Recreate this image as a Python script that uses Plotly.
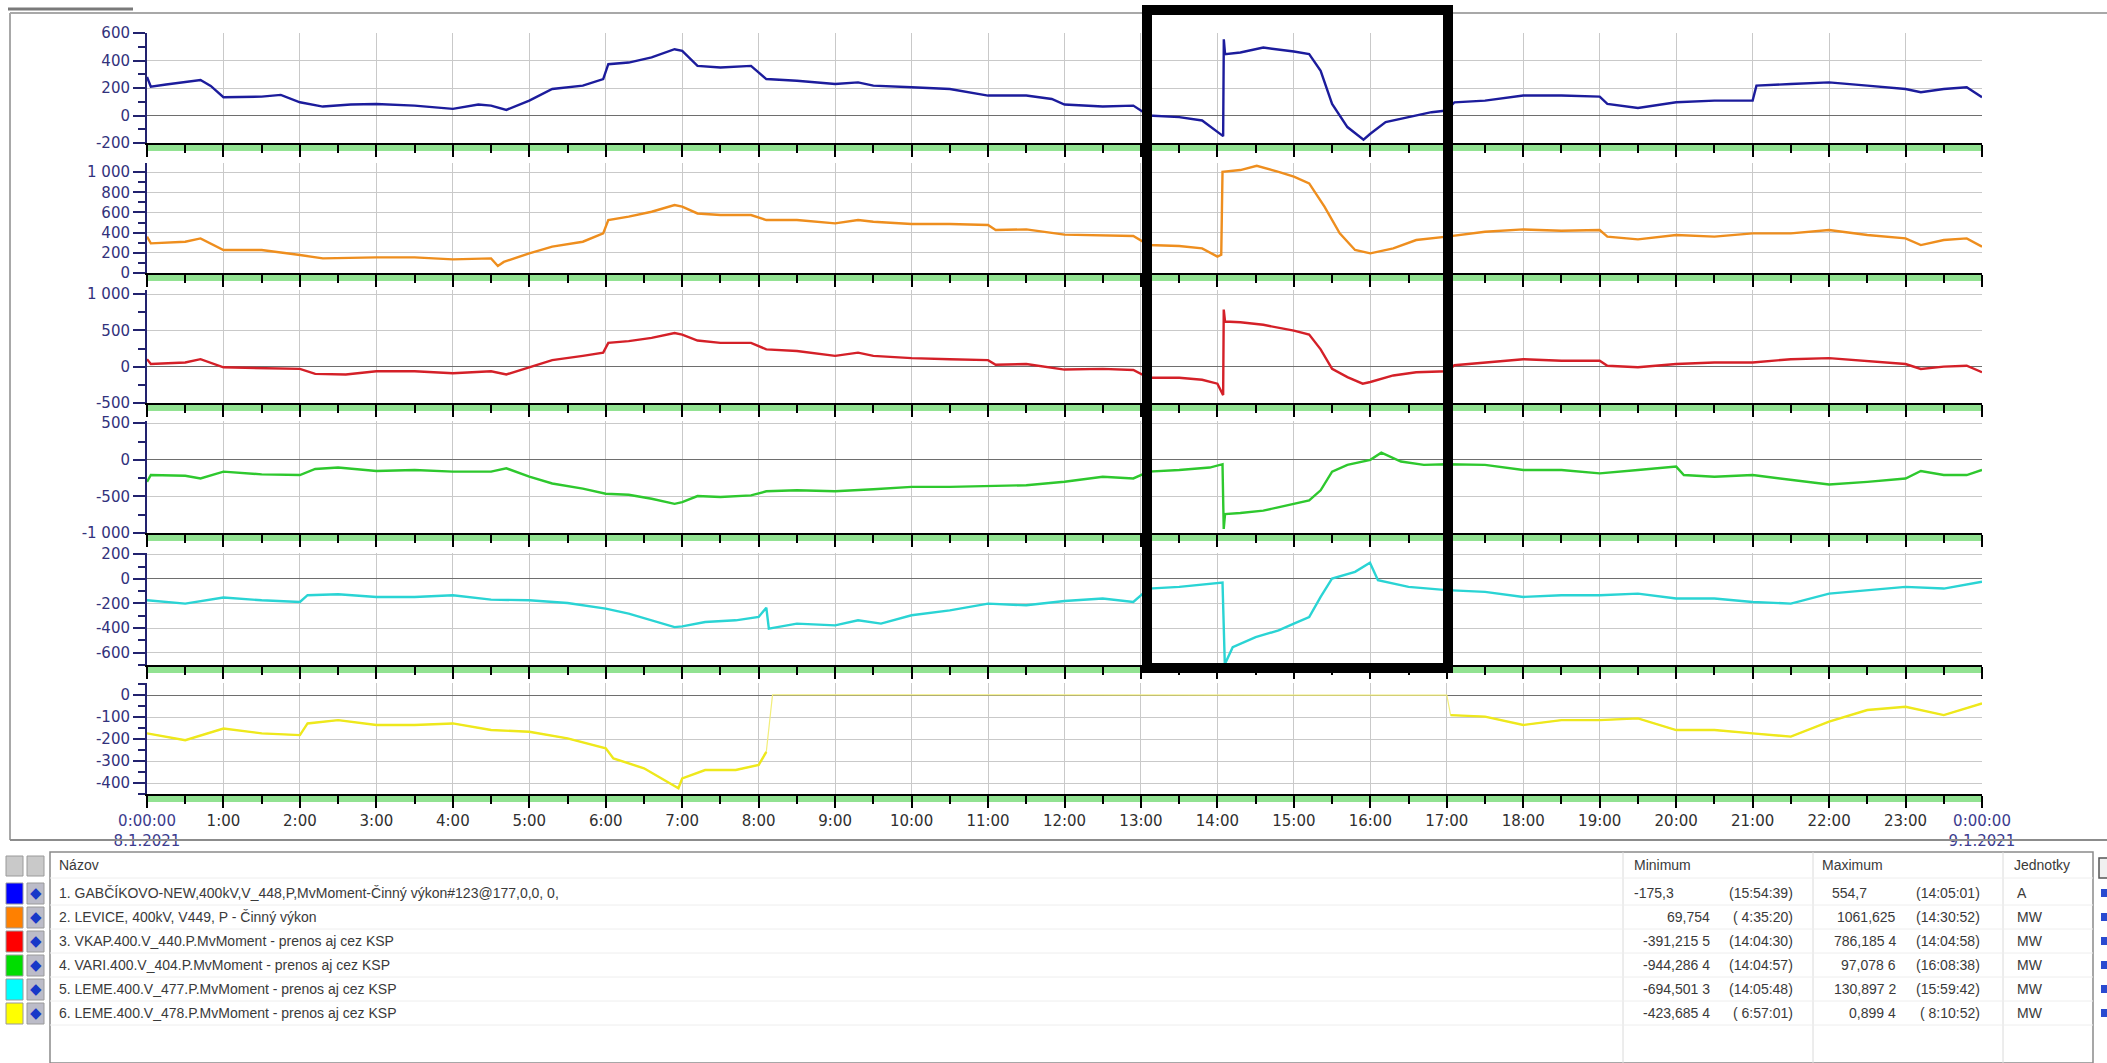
import plotly.graph_objects as go

W, H = 2107, 1063
DAY = "2021-01-08"

# ---------------- measured series, 8.1.2021 (time of day, value) ----------------
gab_t = ["0:00", "0:03", "0:15", "0:30", "0:42", "0:50", "1:00", "1:30", "1:45", "2:00",
         "2:18", "2:40", "3:00", "3:30", "4:00", "4:20", "4:30", "4:42", "5:00", "5:18",
         "5:42", "5:58", "6:02", "6:18", "6:36", "6:54", "7:00", "7:12", "7:30", "7:54",
         "8:06", "8:30", "9:00", "9:18", "9:30", "10:00", "10:30", "11:00", "11:30", "11:50",
         "12:00", "12:30", "12:54", "13:06", "13:30", "13:48", "14:00", "14:04:30", "14:05:01", "14:06",
         "14:18", "14:36", "15:00", "15:12", "15:21", "15:30", "15:42", "15:54:39", "16:00", "16:12",
         "16:30", "16:48", "17:00", "17:06", "17:30", "18:00", "18:30", "19:00", "19:06", "19:30",
         "20:00", "20:30", "21:00", "21:03", "21:30", "22:00", "22:30", "23:00", "23:12", "23:30",
         "23:48", "24:00"]
gab_v = [280, 210, 225, 241, 258, 215, 133, 137, 150, 96,
         65, 80, 84, 72, 48, 80, 72, 41, 108, 193,
         217, 265, 373, 385, 422, 482, 470, 361, 349, 361,
         265, 253, 229, 241, 217, 205, 193, 145, 145, 120,
         80, 65, 72, 0, -12, -36, -120, -150, 554.7, 446,
         458, 494, 465, 446, 325, 84, -84, -175.3, -133, -48,
         -12, 24, 36, 96, 108, 145, 145, 137, 84, 55,
         96, 108, 108, 217, 229, 241, 217, 193, 169, 193,
         205, 133]

lev_t = ["0:00", "0:03", "0:30", "0:42", "1:00", "1:30", "2:00", "2:18", "3:00", "3:30",
         "4:00", "4:30", "4:35:20", "4:40", "5:00", "5:18", "5:42", "5:58", "6:02", "6:18",
         "6:36", "6:54", "7:00", "7:12", "7:30", "7:54", "8:06", "8:30", "9:00", "9:18",
         "9:30", "10:00", "10:30", "11:00", "11:06", "11:30", "12:00", "12:30", "12:54", "13:06",
         "13:30", "13:48", "14:00", "14:03", "14:04", "14:18", "14:30:52", "14:48", "15:00", "15:12",
         "15:24", "15:36", "15:48", "16:00", "16:18", "16:36", "17:00", "17:30", "18:00", "18:30",
         "19:00", "19:06", "19:30", "20:00", "20:30", "21:00", "21:30", "22:00", "22:30", "23:00",
         "23:12", "23:30", "23:48", "24:00"]
lev_v = [360, 294, 310, 343, 228, 228, 178, 145, 155, 155,
         135, 145, 69.754, 110, 195, 261, 310, 393, 525, 558,
         607, 673, 657, 590, 574, 574, 525, 525, 492, 525,
         508, 485, 485, 475, 426, 432, 380, 376, 366, 277,
         267, 244, 162, 180, 1003, 1020, 1061.625, 1003, 954, 888,
         657, 393, 228, 195, 244, 327, 360, 409, 432, 419,
         426, 360, 333, 376, 360, 393, 393, 426, 376, 343,
         277, 327, 343, 261]

vkap_t = ["0:00", "0:03", "0:30", "0:42", "1:00", "1:30", "2:00", "2:12", "2:36", "3:00",
          "3:30", "4:00", "4:30", "4:42", "5:00", "5:18", "5:42", "5:58", "6:02", "6:18",
          "6:36", "6:54", "7:00", "7:12", "7:30", "7:54", "8:06", "8:30", "9:00", "9:18",
          "9:30", "10:00", "10:30", "11:00", "11:06", "11:30", "12:00", "12:30", "12:54", "13:06",
          "13:30", "13:48", "14:00", "14:04:30", "14:04:58", "14:06", "14:18", "14:36", "15:00", "15:12",
          "15:21", "15:30", "15:42", "15:54", "16:00", "16:18", "16:36", "17:00", "17:06", "17:30",
          "18:00", "18:30", "19:00", "19:06", "19:30", "20:00", "20:30", "21:00", "21:30", "22:00",
          "22:30", "23:00", "23:12", "23:30", "23:48", "24:00"]
vkap_v = [103, 36, 58, 103, -9, -18, -31, -99, -108, -63,
          -63, -90, -63, -108, -9, 90, 148, 193, 328, 351,
          396, 463, 441, 360, 328, 328, 238, 216, 148, 193,
          148, 117, 103, 90, 27, 36, -40, -31, -45, -153,
          -153, -180, -234, -391.2155, 786.1854, 621, 612, 576, 495, 441,
          238, -31, -144, -234, -211, -121, -76, -63, 20, 58,
          103, 81, 81, 13, -9, 36, 58, 58, 103, 117,
          72, 36, -31, 0, 13, -76]

vari_t = ["0:00", "0:03", "0:30", "0:42", "1:00", "1:30", "2:00", "2:12", "2:30", "3:00",
          "3:30", "4:00", "4:30", "4:42", "5:00", "5:18", "5:42", "6:00", "6:18", "6:36",
          "6:54", "7:00", "7:12", "7:30", "7:54", "8:06", "8:30", "9:00", "9:30", "10:00",
          "10:30", "11:00", "11:30", "12:00", "12:30", "12:54", "13:06", "13:30", "13:54", "14:04",
          "14:04:57", "14:06", "14:18", "14:36", "15:00", "15:12", "15:21", "15:30", "15:42", "16:00",
          "16:08:38", "16:24", "16:42", "17:00", "17:30", "18:00", "18:30", "19:00", "19:30", "20:00",
          "20:06", "20:30", "21:00", "21:30", "22:00", "22:30", "23:00", "23:12", "23:30", "23:48",
          "24:00"]
vari_v = [-301, -208, -218, -255, -162, -199, -208, -125, -106, -153,
          -139, -162, -162, -116, -231, -324, -393, -463, -477, -532,
          -602, -579, -495, -509, -486, -430, -417, -430, -403, -370,
          -370, -356, -347, -300, -231, -255, -162, -139, -106, -60,
          -944.2864, -741, -727, -694, -602, -556, -417, -162, -69, 0,
          97.0786, -23, -69, -60, -69, -139, -139, -185, -139, -93,
          -208, -231, -208, -278, -338, -301, -255, -153, -208, -208,
          -139]

leme477_t = ["0:00", "0:30", "1:00", "1:30", "2:00", "2:06", "2:30", "3:00", "3:30", "4:00",
             "4:30", "5:00", "5:30", "6:00", "6:18", "6:36", "6:54", "7:00", "7:18", "7:42",
             "8:00", "8:06", "8:08", "8:30", "9:00", "9:18", "9:36", "10:00", "10:30", "11:00",
             "11:30", "12:00", "12:30", "12:54", "13:06", "13:30", "13:54", "14:04", "14:05:48", "14:12",
             "14:30", "14:48", "15:00", "15:12", "15:21", "15:30", "15:48", "15:59:42", "16:06", "16:30",
             "17:00", "17:30", "18:00", "18:30", "19:00", "19:30", "20:00", "20:30", "21:00", "21:30",
             "22:00", "22:30", "23:00", "23:30", "24:00"]
leme477_v = [-174, -201, -152, -174, -188, -133, -125, -147, -147, -133,
             -169, -174, -196, -242, -283, -337, -392, -386, -351, -337,
             -310, -234, -405, -364, -378, -337, -364, -296, -256, -201,
             -215, -180, -160, -188, -79, -65, -38, -30, -694.5013, -555,
             -473, -419, -364, -310, -147, 3, 57, 130.8972, -11, -65,
             -92, -106, -147, -133, -133, -120, -160, -160, -188, -201,
             -120, -92, -65, -79, -24]

leme478_t = ["0:00", "0:30", "1:00", "1:30", "2:00", "2:06", "2:30", "3:00", "3:30", "4:00",
             "4:30", "5:00", "5:30", "6:00", "6:06", "6:30", "6:57:01", "7:00", "7:18", "7:42",
             "8:00", "8:06", "8:10:52", "17:00", "17:03", "17:30", "18:00", "18:30", "19:00", "19:30",
             "20:00", "20:30", "21:00", "21:30", "22:00", "22:30", "23:00", "23:30", "24:00"]
leme478_v = [-174, -205, -152, -174, -182, -129, -114, -136, -136, -129,
             -159, -167, -197, -242, -288, -333, -423.6854, -379, -341, -341,
             -318, -258, 0.8994, 0, -91, -98, -136, -114, -114, -106,
             -159, -159, -174, -189, -121, -68, -53, -91, -38]
# no measurement between these two instants (series held at zero)
leme478_idle = ("8:10:52", "17:00")

series_names = [
    "1. GABČÍKOVO-NEW,400kV,V_448,P,MvMoment-Činný výkon#123@177,0,0, 0,",
    "2. LEVICE, 400kV, V449, P - Činný výkon",
    "3. VKAP.400.V_440.P.MvMoment - prenos aj cez KSP",
    "4. VARI.400.V_404.P.MvMoment - prenos aj cez KSP",
    "5. LEME.400.V_477.P.MvMoment - prenos aj cez KSP",
    "6. LEME.400.V_478.P.MvMoment - prenos aj cez KSP",
]
series_units = ["A", "MW", "MW", "MW", "MW", "MW"]
value_decimals = [1, 3, 4, 4, 4, 4]

y_tick_values = [
    [600, 400, 200, 0, -200],
    [1000, 800, 600, 400, 200, 0],
    [1000, 500, 0, -500],
    [500, 0, -500, -1000],
    [200, 0, -200, -400, -600],
    [0, -100, -200, -300, -400],
]
hour_labels = (["0:00:00<br>8.1.2021"] + [f"{h}:00" for h in range(1, 24)]
               + ["0:00:00<br>9.1.2021"])
table_headers = ["Názov", "Minimum", "Maximum", "Jednotky"]

# ---------------- styling ----------------
line_colors = ["#1c1c9c", "#ee8e1e", "#d42028", "#2ec82e", "#2ad4d4", "#eee81c"]
swatch_colors = ["#0000ff", "#ff8000", "#ff0000", "#00dd00", "#00ffff", "#ffff00"]
y_ranges = [[-200, 600], [0, 1090], [-500, 1055], [-1000, 530], [-700, 210], [-450, 55]]
y_minor_steps = [100, 100, 250, 250, 100, 50]
panel_px = [(33, 143), (163, 273), (290, 403), (421, 533), (553, 665), (683, 794)]
PLOT_L, PLOT_R = 147, 1982
BAND = 8
NAVY = "#22226e"
NAVY_TXT = "#32327c"
GRID = "#c9c9c9"
GREEN = "#92e292"
TXT = "#3a3a3a"
FONT = "DejaVu Sans"
TFONT = "Liberation Sans"
LINE_W = 2.4


def ts(t):
    p = [int(s) for s in t.split(":")]
    h, m = p[0], p[1]
    s = p[2] if len(p) > 2 else 0
    if h == 24:
        return "2021-01-09 00:00:00"
    return f"{DAY} {h:02d}:{m:02d}:{s:02d}"


def to_seconds(t):
    p = [int(s) for s in t.split(":")]
    return p[0] * 3600 + p[1] * 60 + (p[2] if len(p) > 2 else 0)


def fx(x):
    return x / W


def fy(y):
    return 1 - y / H


def fmt_tick(v):
    s = f"{abs(v):,}".replace(",", " ")
    return ("-" if v < 0 else "") + s


def fmt_value(v, d):
    s = f"{abs(v):.{d}f}"
    ip, fp = s.split(".")
    if len(fp) > 3:
        fp = fp[:3] + " " + fp[3:]
    return ("-" if v < 0 else "") + ip + "," + fp


def fmt_time(t):
    sec = to_seconds(t)
    h, rem = divmod(sec, 3600)
    m, s = divmod(rem, 60)
    hh = f"{h}" if h >= 10 else f"\u00a0{h}"
    return f"({hh}:{m:02d}:{s:02d})"


series = [(gab_t, gab_v), (lev_t, lev_v), (vkap_t, vkap_v),
          (vari_t, vari_v), (leme477_t, leme477_v), (leme478_t, leme478_v)]

fig = go.Figure()
layout = dict(
    width=W, height=H, autosize=False, template="none",
    margin=dict(l=0, r=0, t=0, b=0, pad=0),
    paper_bgcolor="white", plot_bgcolor="white",
    showlegend=False, hovermode=False,
)

hour_vals = [ts(f"{h}:00") for h in range(25)]
half_vals = [ts(f"{h}:30") for h in range(24)]
hour_text = []
for lab in hour_labels:
    if "<br>" in lab:
        a, b = lab.split("<br>")
        hour_text.append(f"<span style='color:#3c3c8e'>{a}</span><br>"
                         f"<span style='color:#3c3c8e'>{b}</span>")
    else:
        hour_text.append(lab)

shapes = []
annotations = []

for i, ((t, v), col) in enumerate(zip(series, line_colors)):
    n = i + 1
    xn = "x" if n == 1 else f"x{n}"
    yn = "y" if n == 1 else f"y{n}"
    xs = [ts(s) for s in t]
    if n == 6:
        # idle stretch drawn as a faint hairline, measured parts in full weight
        a, b = t.index(leme478_idle[0]), t.index(leme478_idle[1])
        fig.add_trace(go.Scatter(x=xs, y=v, mode="lines",
                                 line=dict(color="#f2ee7a", width=1.2),
                                 xaxis=xn, yaxis=yn))
        active = [None if a <= k <= b else val for k, val in enumerate(v)]
        fig.add_trace(go.Scatter(x=xs, y=active, mode="lines", connectgaps=False,
                                 line=dict(color=col, width=LINE_W), xaxis=xn, yaxis=yn))
    else:
        fig.add_trace(go.Scatter(x=xs, y=v, mode="lines",
                                 line=dict(color=col, width=LINE_W), xaxis=xn, yaxis=yn))
    top, bot = panel_px[i]
    lo, hi = y_ranges[i]
    step = y_minor_steps[i]
    start = (lo // step) * step
    minor_vals = [m for m in range(start, hi + 1, step)
                  if lo <= m <= hi and m not in y_tick_values[i]]
    layout[f"xaxis{'' if n == 1 else n}"] = dict(
        domain=[fx(PLOT_L), fx(PLOT_R)], anchor=yn, type="date",
        range=[ts("0:00"), ts("24:00")],
        tickmode="array", tickvals=hour_vals, ticktext=hour_text,
        showticklabels=(n == 6),
        ticks="outside", ticklen=12, tickwidth=2, tickcolor="black",
        showline=True, linecolor="black", linewidth=2,
        showgrid=True, gridcolor=GRID, gridwidth=1, zeroline=False,
        minor=dict(tickmode="array", tickvals=half_vals, ticks="outside", ticklen=8,
                   tickwidth=2, tickcolor="black", showgrid=False),
        tickfont=dict(family=FONT, size=15, color="#303030"),
        fixedrange=True, automargin=False,
        **({} if n == 1 else {"matches": "x"}),
    )
    layout[f"yaxis{'' if n == 1 else n}"] = dict(
        domain=[fy(bot), fy(top)], anchor=xn, range=[lo, hi],
        tickmode="array", tickvals=y_tick_values[i],
        ticktext=[fmt_tick(k) for k in y_tick_values[i]],
        ticks="outside", ticklen=12, tickwidth=2, tickcolor=NAVY,
        showline=True, linecolor=NAVY, linewidth=2,
        showgrid=True, gridcolor=GRID, gridwidth=1,
        zeroline=True, zerolinecolor="#6e6e6e", zerolinewidth=1,
        minor=dict(tickmode="array", tickvals=minor_vals, ticks="outside", ticklen=7,
                   tickwidth=2, tickcolor=NAVY, showgrid=False),
        tickfont=dict(family=FONT, size=15, color=NAVY_TXT),
        fixedrange=True, automargin=False,
    )
    # green time strip under each panel
    shapes.append(dict(type="rect", xref="paper", yref="paper",
                       x0=fx(PLOT_L), x1=fx(PLOT_R), y0=fy(bot + BAND), y1=fy(bot),
                       fillcolor=GREEN, line=dict(width=0), layer="below"))

# window frame around the chart area
shapes.append(dict(type="line", xref="paper", yref="paper", x0=fx(8), x1=fx(133),
                   y0=fy(9), y1=fy(9), line=dict(color="#7a7a7a", width=3)))
shapes.append(dict(type="line", xref="paper", yref="paper", x0=fx(10), x1=1,
                   y0=fy(13), y1=fy(13), line=dict(color="#a8a8a8", width=2)))
shapes.append(dict(type="line", xref="paper", yref="paper", x0=fx(10), x1=fx(10),
                   y0=fy(13), y1=fy(840), line=dict(color="#a8a8a8", width=2)))
shapes.append(dict(type="line", xref="paper", yref="paper", x0=fx(10), x1=1,
                   y0=fy(840), y1=fy(840), line=dict(color="#8c8c8c", width=2)))

# highlight box around the event
shapes.append(dict(type="rect", xref="paper", yref="paper",
                   x0=fx(1147), x1=fx(1448), y0=fy(668), y1=fy(10),
                   line=dict(color="black", width=10), fillcolor="rgba(0,0,0,0)",
                   layer="above"))

# ---------------- summary table ----------------
TBL_T, TBL_L, TBL_R = 852, 50, 2093
shapes.append(dict(type="rect", xref="paper", yref="paper",
                   x0=fx(TBL_L), x1=fx(TBL_R), y0=0, y1=fy(TBL_T),
                   line=dict(color="#8a8a8a", width=1.5), fillcolor="white", layer="below"))
for cx in (1623, 1813, 2003):
    shapes.append(dict(type="line", xref="paper", yref="paper", x0=fx(cx), x1=fx(cx),
                       y0=0, y1=fy(TBL_T), line=dict(color="#dadada", width=1)))
row_y = [893, 917, 941, 965, 989, 1013]
for yy in [878] + [r + 12 for r in row_y]:
    shapes.append(dict(type="line", xref="paper", yref="paper", x0=fx(TBL_L), x1=fx(TBL_R),
                       y0=fy(yy), y1=fy(yy), line=dict(color="#eeeeee", width=1)))

# header icons
for x0 in (6, 27):
    shapes.append(dict(type="rect", xref="paper", yref="paper", x0=fx(x0), x1=fx(x0 + 17),
                       y0=fy(876), y1=fy(856), fillcolor="#c9c9c9",
                       line=dict(color="#9a9a9a", width=1)))
# scroll strip at the right edge
shapes.append(dict(type="rect", xref="paper", yref="paper", x0=fx(2099), x1=fx(2110),
                   y0=fy(878), y1=fy(858), fillcolor="#f0f0f0",
                   line=dict(color="#555555", width=1.5)))

hx = [57, 1632, 1820, 2012]
for txt, x in zip(table_headers, hx):
    annotations.append(dict(text=txt, x=fx(x), y=fy(865), xref="paper", yref="paper",
                            xanchor="left", yanchor="middle", showarrow=False,
                            font=dict(family=TFONT, size=14, color=TXT)))

for i, ((t, v), name, unit, dec) in enumerate(zip(series, series_names, series_units,
                                                   value_decimals)):
    yc = row_y[i]
    shapes.append(dict(type="rect", xref="paper", yref="paper", x0=fx(6), x1=fx(23),
                       y0=fy(yc + 11), y1=fy(yc - 10), fillcolor=swatch_colors[i],
                       line=dict(color="#9a9a9a", width=1)))
    shapes.append(dict(type="rect", xref="paper", yref="paper", x0=fx(27), x1=fx(44),
                       y0=fy(yc + 11), y1=fy(yc - 10), fillcolor="#bcbcc8",
                       line=dict(color="#9a9a9a", width=1)))
    annotations.append(dict(text="◆", x=fx(35.5), y=fy(yc), xref="paper", yref="paper",
                            xanchor="center", yanchor="middle", showarrow=False,
                            font=dict(family=FONT, size=15, color="#1838c8")))
    shapes.append(dict(type="rect", xref="paper", yref="paper", x0=fx(2101), x1=fx(2110),
                       y0=fy(yc + 4), y1=fy(yc - 4), fillcolor="#2a4ad0",
                       line=dict(width=0)))
    annotations.append(dict(text=name, x=fx(57), y=fy(yc), xref="paper", yref="paper",
                            xanchor="left", yanchor="middle", showarrow=False,
                            font=dict(family=TFONT, size=14, color=TXT)))
    kmin = min(range(len(v)), key=lambda k: v[k])
    kmax = max(range(len(v)), key=lambda k: v[k])
    for (k, vx, tx, first_x) in ((kmin, 1712, 1795, 1632), (kmax, 1898, 1982, 1830)):
        val_txt = fmt_value(v[k], dec)
        if i == 0:
            annotations.append(dict(text=val_txt, x=fx(first_x), y=fy(yc), xref="paper",
                                    yref="paper", xanchor="left", yanchor="middle",
                                    showarrow=False,
                                    font=dict(family=TFONT, size=14, color=TXT)))
        else:
            annotations.append(dict(text=val_txt, x=fx(vx), y=fy(yc), xref="paper",
                                    yref="paper", xanchor="right", yanchor="middle",
                                    showarrow=False,
                                    font=dict(family=TFONT, size=14, color=TXT)))
        annotations.append(dict(text=fmt_time(t[k]), x=fx(tx), y=fy(yc), xref="paper",
                                yref="paper", xanchor="right", yanchor="middle",
                                showarrow=False,
                                font=dict(family=TFONT, size=14, color=TXT)))
    annotations.append(dict(text=unit, x=fx(2015), y=fy(yc), xref="paper", yref="paper",
                            xanchor="left", yanchor="middle", showarrow=False,
                            font=dict(family=TFONT, size=14, color=TXT)))

layout["shapes"] = shapes
layout["annotations"] = annotations
fig.update_layout(**layout)

fig.write_html("out.html", config={"displayModeBar": False, "staticPlot": True},
               post_script="document.body.style.margin='0';")
